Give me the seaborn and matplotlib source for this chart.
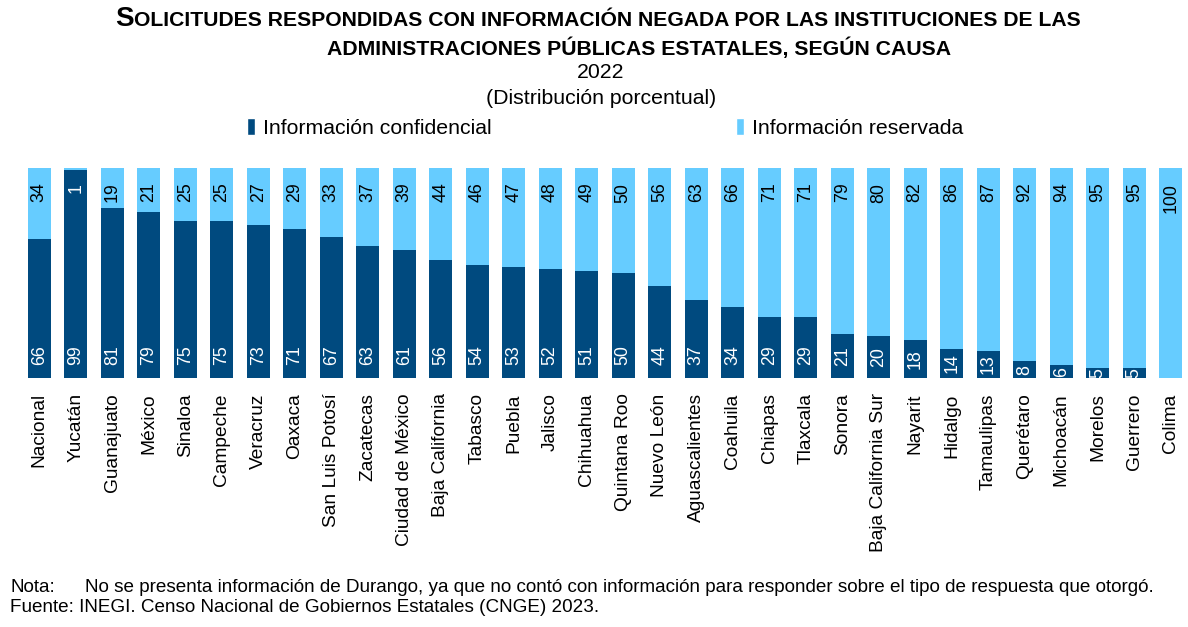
import matplotlib
matplotlib.use("Agg")
import matplotlib.pyplot as plt
import seaborn as sns
import pandas as pd
from matplotlib.patches import Patch

estados = ["Nacional", "Yucatán", "Guanajuato", "México", "Sinaloa", "Campeche", "Veracruz",
           "Oaxaca", "San Luis Potosí", "Zacatecas", "Ciudad de México", "Baja California",
           "Tabasco", "Puebla", "Jalisco", "Chihuahua", "Quintana Roo", "Nuevo León",
           "Aguascalientes", "Coahuila", "Chiapas", "Tlaxcala", "Sonora", "Baja California Sur",
           "Nayarit", "Hidalgo", "Tamaulipas", "Querétaro", "Michoacán", "Morelos", "Guerrero",
           "Colima"]
confidencial = [66, 99, 81, 79, 75, 75, 73, 71, 67, 63, 61, 56, 54, 53, 52, 51, 50, 44,
                37, 34, 29, 29, 21, 20, 18, 14, 13, 8, 6, 5, 5, 0]
reservada = [34, 1, 19, 21, 25, 25, 27, 29, 33, 37, 39, 44, 46, 47, 48, 49, 50, 56,
             63, 66, 71, 71, 79, 80, 82, 86, 87, 92, 94, 95, 95, 100]

DARK = "#004A7F"
LIGHT = "#66CCFF"
FONT = "Liberation Sans"

sns.set_theme(style="white")
plt.rcParams["font.family"] = [FONT, "DejaVu Sans"]
plt.rcParams["text.color"] = "black"
plt.rcParams["xtick.color"] = "black"

df = pd.DataFrame({"estado": estados, "conf": confidencial, "res": reservada})
df["total"] = df["conf"] + df["res"]

fig = plt.figure(figsize=(11.88, 6.27), dpi=100)
ax = fig.add_axes([21 / 1188, 1 - 378 / 627, 1168 / 1188, 210 / 627])

sns.barplot(data=df, x="estado", y="total", color=LIGHT, width=0.64, ax=ax,
            saturation=1, edgecolor="none")
sns.barplot(data=df, x="estado", y="conf", color=DARK, width=0.64, ax=ax,
            saturation=1, edgecolor="none")

ax.set_xlim(-0.5, len(estados) - 0.5)
ax.set_ylim(0, 100)
ax.set_xlabel("")
ax.set_ylabel("")
ax.set_yticks([])
for s in ax.spines.values():
    s.set_visible(False)
ax.tick_params(axis="x", length=0, pad=11)
ax.set_xticks(range(len(estados)))
ax.set_xticklabels(estados, rotation=90, fontsize=13.8, color="black", va="top", ha="center")

for i, (c, r) in enumerate(zip(confidencial, reservada)):
    if c > 0:
        ax.text(i, min(c / 2, 10.7), f"{c}", rotation=90, ha="center", va="center",
                color="white", fontsize=12.8)
    if r > 0:
        col = "white" if r < 5 else "black"
        ax.text(i, 93, f"{r}", rotation=90, ha="center", va="top", color=col, fontsize=12.8)

# Title (small caps style)
t1 = fig.text(115 / 1188, 1 - 26 / 627, "S", fontsize=20, fontweight="bold", ha="left", va="baseline")
fig.canvas.draw()
bb = t1.get_window_extent()
fig.text(bb.x1 / fig.bbox.width, 1 - 26 / 627,
         "OLICITUDES RESPONDIDAS CON INFORMACIÓN NEGADA POR LAS INSTITUCIONES DE LAS",
         fontsize=15.2, fontweight="bold", ha="left", va="baseline")
fig.text(327 / 1188, 1 - 55 / 627, "ADMINISTRACIONES PÚBLICAS ESTATALES, SEGÚN CAUSA",
         fontsize=15.3, fontweight="bold", ha="left", va="baseline")
fig.text(601 / 1188, 1 - 73 / 627, "2022", fontsize=15.3, ha="center", va="center")
fig.text(601 / 1188, 1 - 98 / 627, "(Distribución porcentual)", fontsize=15.3, ha="center", va="center")

handles = [Patch(facecolor=DARK, label="Información confidencial"),
           Patch(facecolor=LIGHT, label="Información reservada")]
fig.legend(handles=handles, loc="center", bbox_to_anchor=(605 / 1188, 1 - 128 / 627), ncol=2,
           frameon=False, fontsize=15.3, handlelength=0.4, handleheight=0.8,
           handletextpad=0.35, columnspacing=11.5, borderaxespad=0)

fig.text(10 / 1188, 1 - 588 / 627, "Nota:", fontsize=13.6, ha="left", va="center")
fig.text(85 / 1188, 1 - 588 / 627,
         "No se presenta información de Durango, ya que no contó con información para responder sobre el tipo de respuesta que otorgó.",
         fontsize=13.6, ha="left", va="center")
fig.text(10 / 1188, 1 - 608 / 627, "Fuente: INEGI. Censo Nacional de Gobiernos Estatales (CNGE) 2023.",
         fontsize=13.6, ha="left", va="center")

fig.savefig("out.png", dpi=100, facecolor="white")
